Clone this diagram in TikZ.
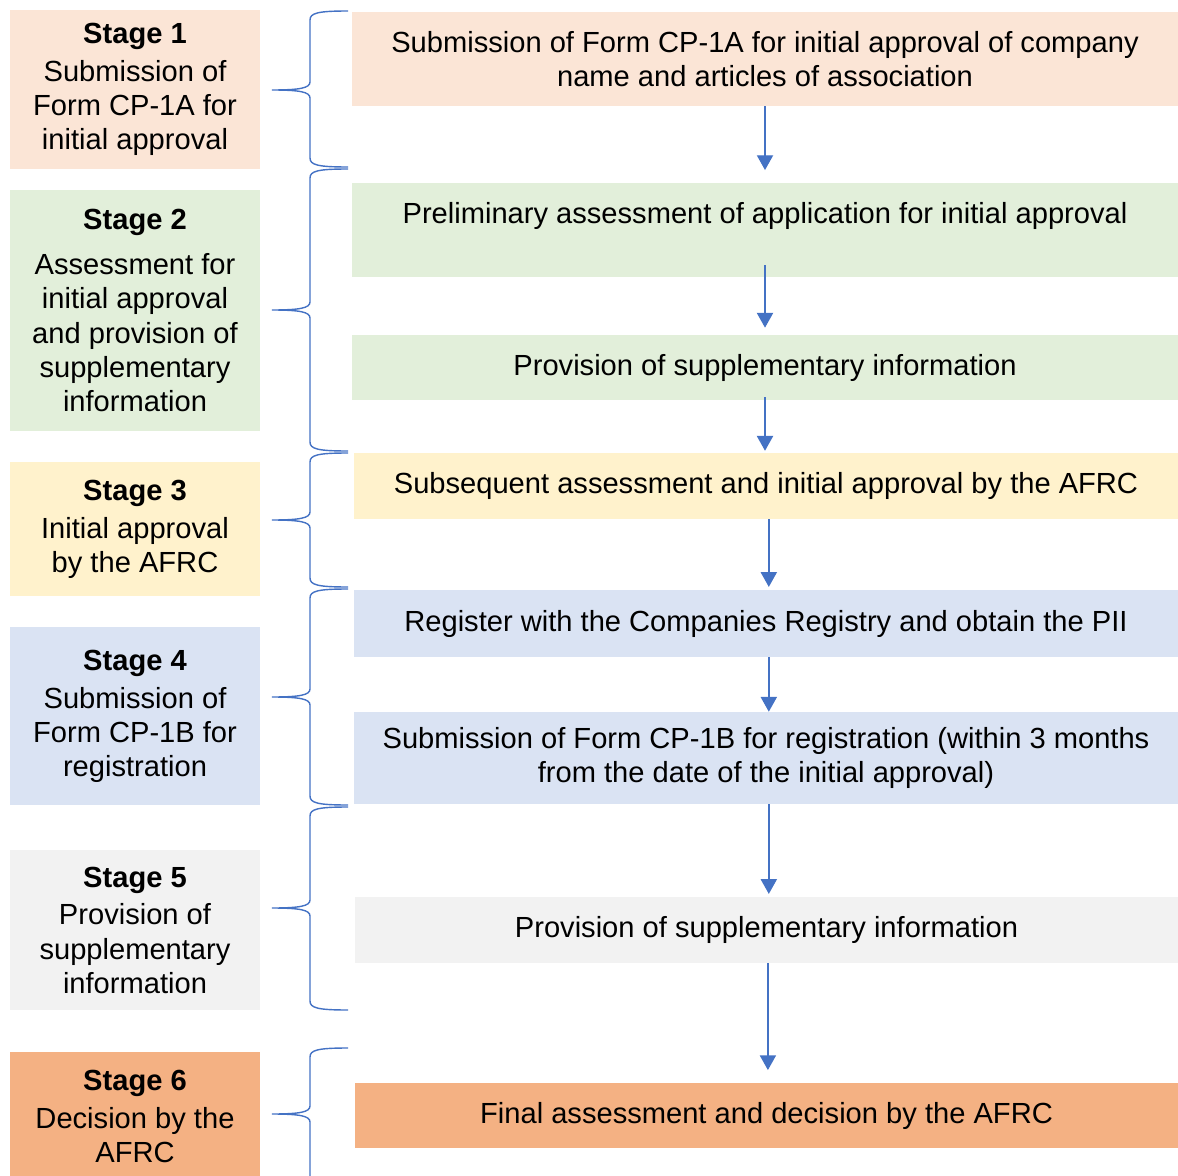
\documentclass[tikz,border=0pt]{standalone}
\usepackage{fontspec}
\setmainfont{Liberation Sans}
\usepackage{tikz}
\usetikzlibrary{arrows.meta, positioning, calc}
\definecolor{stagepeach}{HTML}{FBE5D6}
\definecolor{stagegreen}{HTML}{E2EFDA}
\definecolor{stageyellow}{HTML}{FFF2CC}
\definecolor{stageblue}{HTML}{DAE3F3}
\definecolor{stagegrey}{HTML}{F2F2F2}
\definecolor{stageorange}{HTML}{F4B183}
\definecolor{flowblue}{HTML}{4472C4}
\tikzstyle{stagebox} = [
  rectangle, inner sep=0pt, minimum width=6.25cm,
  align=center, font=\fontsize{20.7}{24.2}\selectfont
]
\tikzstyle{stepbox} = [
  rectangle, inner sep=0pt, minimum width=20.65cm,
  align=center, font=\fontsize{20.7}{23.8}\selectfont
]
\tikzstyle{arrow} = [-{Triangle[length=10.5pt, width=11.5pt]}, line width=1pt, draw=flowblue, fill=flowblue]
\tikzstyle{brace} = [line width=1pt, draw=flowblue]
% curly brace: top end, tip, bottom end (y in pixels)
\newcommand{\stagebrace}[3]{%
  \draw[brace] (348,#1) .. controls (318,#1) and (310,#1+2) .. (310,#1+9)
    -- (310,#2-8) .. controls (310,#2-2) and (300,#2) .. (272,#2)
    .. controls (300,#2) and (310,#2+2) .. (310,#2+8)
    -- (310,#3-9) .. controls (310,#3-2) and (318,#3) .. (348,#3);}

\begin{document}
\begin{tikzpicture}[x=0.025cm, y=-0.025cm]
  \useasboundingbox (0,0) rectangle (1178,1176);

  % stages
  \node[stagebox, fill=stagepeach, minimum height=3.975cm] (s1) at (135, 89.5) {%
    \textbf{Stage 1}\\[2.8pt]
    Submission of\\ Form CP-1A for\\ initial approval};
  \node[stagebox, fill=stagegreen, minimum height=6.025cm] (s2) at (135, 310.5) {%
    \textbf{Stage 2}\\[7.8pt]
    Assessment for\\ initial approval\\ and provision of\\ supplementary\\ information};
  \node[stagebox, fill=stageyellow, minimum height=3.35cm] (s3) at (135, 529) {%
    \textbf{Stage 3}\\[2.8pt]
    Initial approval\\ by the AFRC};
  \node[stagebox, fill=stageblue, minimum height=4.45cm] (s4) at (135, 716) {%
    \textbf{Stage 4}\\[2.8pt]
    Submission of\\ Form CP-1B for\\ registration};
  \node[stagebox, fill=stagegrey, minimum height=4cm] (s5) at (135, 930) {%
    \textbf{Stage 5}\\[2.8pt]
    Provision of\\ supplementary\\ information};
  \node[stagebox, fill=stageorange, minimum height=3.2cm] (s6) at (135, 1116) {%
    \textbf{Stage 6}\\[2.8pt]
    Decision by the\\ AFRC};

  % steps
  \node[stepbox, fill=stagepeach, minimum height=2.35cm] (r1) at (765, 59) {%
    Submission of Form CP-1A for initial approval of company\\
    name and articles of association};
  \node[stepbox, fill=stagegreen, minimum height=2.35cm] (r2) at (765, 230) {%
    Preliminary assessment of application for initial approval\\ \mbox{}};
  \node[stepbox, fill=stagegreen, minimum height=1.625cm] (r3) at (765, 367.5) {%
    Provision of supplementary information};
  \node[stepbox, fill=stageyellow, minimum width=20.6cm, minimum height=1.65cm] (r4) at (766, 486) {%
    Subsequent assessment and initial approval by the AFRC};
  \node[stepbox, fill=stageblue, minimum width=20.6cm, minimum height=1.675cm] (r5) at (766, 623.5) {%
    Register with the Companies Registry and obtain the PII};
  \node[stepbox, fill=stageblue, minimum width=20.6cm, minimum height=2.3cm] (r6) at (766, 758) {%
    Submission of Form CP-1B for registration (within 3 months\\
    from the date of the initial approval)};
  \node[stepbox, fill=stagegrey, minimum width=20.575cm, minimum height=1.65cm] (r7) at (766.5, 930) {%
    Provision of supplementary information};
  \node[stepbox, fill=stageorange, minimum width=20.575cm, minimum height=1.625cm] (r8) at (766.5, 1115.5) {%
    Final assessment and decision by the AFRC};

  \draw[arrow, shorten >=9pt] (r1.south) -- (r1.south |- r2.north);
  \draw[arrow, shorten >=5pt] ([yshift=8.5pt]r2.south) -- (r2.south |- r3.north);
  \draw[arrow, shorten >=1.4pt] ([yshift=2pt]r3.south) -- (r3.south |- r4.north);
  \draw[arrow, shorten >=2pt] ([xshift=2pt]r4.south) -- ([xshift=2pt]r4.south |- r5.north);
  \draw[arrow] ([xshift=2pt]r5.south) -- ([xshift=2pt]r5.south |- r6.north);
  \draw[arrow, shorten >=2pt] ([xshift=2pt]r6.south) -- ([xshift=2pt]r6.south |- r7.north);
  \draw[arrow, shorten >=9pt] ([xshift=1pt]r7.south) -- ([xshift=1pt]r7.south |- r8.north);

  \stagebrace{11}{90}{167}
  \stagebrace{169}{310}{451}
  \stagebrace{453}{520}{587}
  \stagebrace{589}{697}{805}
  \stagebrace{807}{908}{1010}
  \stagebrace{1048}{1114}{1200}

\end{tikzpicture}
\end{document}
